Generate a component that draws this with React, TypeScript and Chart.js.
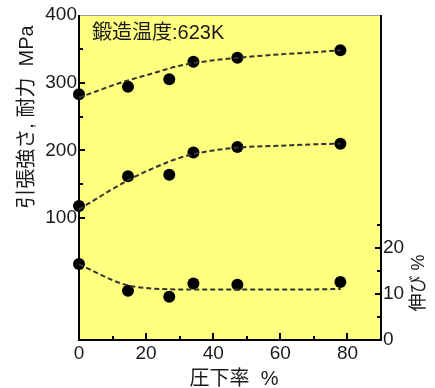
import React, { useEffect, useRef } from "react";
import { Chart, registerables } from "chart.js";

Chart.register(...registerables);

// ---- data ----
const reduction = [0, 14.6, 26.9, 34.1, 47.2, 77.9];
const tensile = [283, 294, 305, 331, 337, 348];
const proof = [118, 162, 164, 197, 205, 210];
const elongation = [16.5, 10.7, 9.4, 12.3, 12.0, 12.6];

const fitX = [0, 5, 10, 15, 20, 30, 40, 50, 60, 70, 78];
const tensileFit = [278, 287, 296, 304, 311, 325, 333, 338, 342, 345, 348];
const proofFit = [113, 128, 143, 157, 169, 189, 200, 205, 207, 209, 210];
const elongFit = [16.5, 14.7, 13.0, 11.8, 11.3, 11.0, 11.0, 11.0, 11.0, 11.0, 11.1];

const xTicks = [0, 20, 40, 60, 80];
const xMinorTicks = [10, 30, 50, 70];
const leftTicks = [100, 200, 300, 400];
const leftInnerTicks = [100, 200, 300];
const leftMinorTicks = [150, 250, 350];
const rightTicks = [0, 10, 20];
const rightInnerTicks = [10, 20];
const rightMinorTicks = [5, 15, 25];

const annotation = "鍛造温度:623K";
const leftTitle = "引張強さ, 耐力  MPa";
const rightTitle = "伸び %";
const xTitle = "圧下率  %";

const TEXT = "#1a1a1a";
const FONT = '"Liberation Sans", Arial, "Noto Sans CJK JP", sans-serif';

const pts = (xs: number[], ys: number[]) => xs.map((x, i) => ({ x, y: ys[i] }));

const decor = {
  id: "decor",
  beforeDraw(chart: any) {
    const { ctx, chartArea: a } = chart;
    ctx.save();
    ctx.fillStyle = "#ffff80";
    ctx.fillRect(a.left, a.top, a.right - a.left, a.bottom - a.top);
    ctx.restore();
  },
  beforeDatasetsDraw(chart: any) {
    const { ctx, chartArea: a, scales } = chart;
    ctx.save();
    // top border (thin gray)
    ctx.strokeStyle = "#9a9a9a";
    ctx.lineWidth = 1;
    ctx.beginPath();
    ctx.moveTo(a.left, a.top + 0.5);
    ctx.lineTo(a.right, a.top + 0.5);
    ctx.stroke();
    // black borders
    ctx.strokeStyle = "#000";
    ctx.lineWidth = 2;
    ctx.beginPath();
    ctx.moveTo(a.left, a.top);
    ctx.lineTo(a.left, a.bottom);
    ctx.lineTo(a.right, a.bottom);
    ctx.lineTo(a.right, a.top);
    ctx.stroke();
    // ticks
    const x = scales.x, y = scales.y, y2 = scales.y2;
    ctx.beginPath();
    xTicks.forEach((v) => {
      const px = Math.round(x.getPixelForValue(v));
      ctx.moveTo(px, a.bottom);
      ctx.lineTo(px, a.bottom - 7);
    });
    xMinorTicks.forEach((v) => {
      const px = Math.round(x.getPixelForValue(v));
      ctx.moveTo(px, a.bottom);
      ctx.lineTo(px, a.bottom - 4);
    });
    leftInnerTicks.forEach((v) => {
      const py = Math.round(y.getPixelForValue(v));
      ctx.moveTo(a.left, py);
      ctx.lineTo(a.left + 6, py);
    });
    leftMinorTicks.forEach((v) => {
      const py = Math.round(y.getPixelForValue(v));
      ctx.moveTo(a.left, py);
      ctx.lineTo(a.left + 4, py);
    });
    rightInnerTicks.forEach((v) => {
      const py = Math.round(y2.getPixelForValue(v));
      ctx.moveTo(a.right, py);
      ctx.lineTo(a.right - 6, py);
    });
    rightMinorTicks.forEach((v) => {
      const py = Math.round(y2.getPixelForValue(v));
      ctx.moveTo(a.right, py);
      ctx.lineTo(a.right - 4, py);
    });
    ctx.stroke();
    ctx.restore();
  },
  afterDraw(chart: any) {
    const { ctx, chartArea: a } = chart;
    ctx.save();
    ctx.fillStyle = TEXT;
    ctx.textBaseline = "middle";
    // annotation
    ctx.font = `20px ${FONT}`;
    ctx.textAlign = "left";
    ctx.fillText(annotation, a.left + 13, 33);
    // x title
    ctx.textAlign = "center";
    ctx.fillText(xTitle, 234, 379);
    // left title
    ctx.save();
    ctx.translate(27, 117);
    ctx.rotate(-Math.PI / 2);
    ctx.fillText(leftTitle, 0, 0);
    ctx.restore();
    // right title
    ctx.save();
    ctx.font = `18px ${FONT}`;
    ctx.translate(419, 283);
    ctx.rotate(-Math.PI / 2);
    ctx.fillText(rightTitle, 0, 0);
    ctx.restore();
    ctx.restore();
  },
};

export default function App() {
  const ref = useRef<HTMLCanvasElement | null>(null);
  useEffect(() => {
    if (!ref.current) return;
    const fitStyle = {
      showLine: true,
      borderColor: "#333",
      borderWidth: 2,
      borderDash: [5, 3],
      pointRadius: 0,
      fill: false,
      cubicInterpolationMode: "monotone" as const,
      clip: false as const,
    };
    const ptStyle = {
      showLine: false,
      pointRadius: 6,
      pointBackgroundColor: "#000",
      pointBorderColor: "#000",
      pointBorderWidth: 0,
      clip: false as const,
    };
    const tickFont = { family: FONT, size: 19 };
    const noGrid = { display: false, drawTicks: false };
    const chart = new Chart(ref.current, {
      type: "scatter",
      data: {
        datasets: [
          { ...fitStyle, data: pts(fitX, tensileFit), yAxisID: "y" },
          { ...fitStyle, data: pts(fitX, proofFit), yAxisID: "y" },
          { ...fitStyle, data: pts(fitX, elongFit), yAxisID: "y2" },
          { ...ptStyle, data: pts(reduction, tensile), yAxisID: "y" },
          { ...ptStyle, data: pts(reduction, proof), yAxisID: "y" },
          { ...ptStyle, data: pts(reduction, elongation), yAxisID: "y2" },
        ] as any,
      },
      options: {
        animation: false,
        responsive: false,
        devicePixelRatio: 1,
        layout: { padding: { top: 15, left: 0, right: 0, bottom: 0 } },
        plugins: { legend: { display: false }, tooltip: { enabled: false } },
        scales: {
          x: {
            type: "linear",
            min: 0,
            max: 90,
            grid: noGrid,
            border: { display: false },
            ticks: { font: tickFont, color: TEXT, padding: 2, maxRotation: 0 },
            afterBuildTicks: (s: any) => {
              s.ticks = xTicks.map((v) => ({ value: v }));
            },
            afterFit: (s: any) => {
              s.height = 48;
            },
          },
          y: {
            type: "linear",
            position: "left",
            min: -80,
            max: 400,
            grid: noGrid,
            border: { display: false },
            ticks: { font: tickFont, color: TEXT, padding: 2 },
            afterBuildTicks: (s: any) => {
              s.ticks = leftTicks.map((v) => ({ value: v }));
            },
            afterFit: (s: any) => {
              s.width = 79;
            },
          },
          y2: {
            type: "linear",
            position: "right",
            min: 0,
            max: 70.65,
            grid: noGrid,
            border: { display: false },
            ticks: { font: tickFont, color: TEXT, padding: 2 },
            afterBuildTicks: (s: any) => {
              s.ticks = rightTicks.map((v) => ({ value: v }));
            },
            afterFit: (s: any) => {
              s.width = 54;
            },
          },
        },
      } as any,
      plugins: [decor],
    });
    return () => chart.destroy();
  }, []);
  return (
    <div style={{ position: "absolute", left: 0, top: 0, width: 435, height: 388 }}>
      <canvas ref={ref} width={435} height={388} style={{ width: 435, height: 388 }} />
    </div>
  );
}
